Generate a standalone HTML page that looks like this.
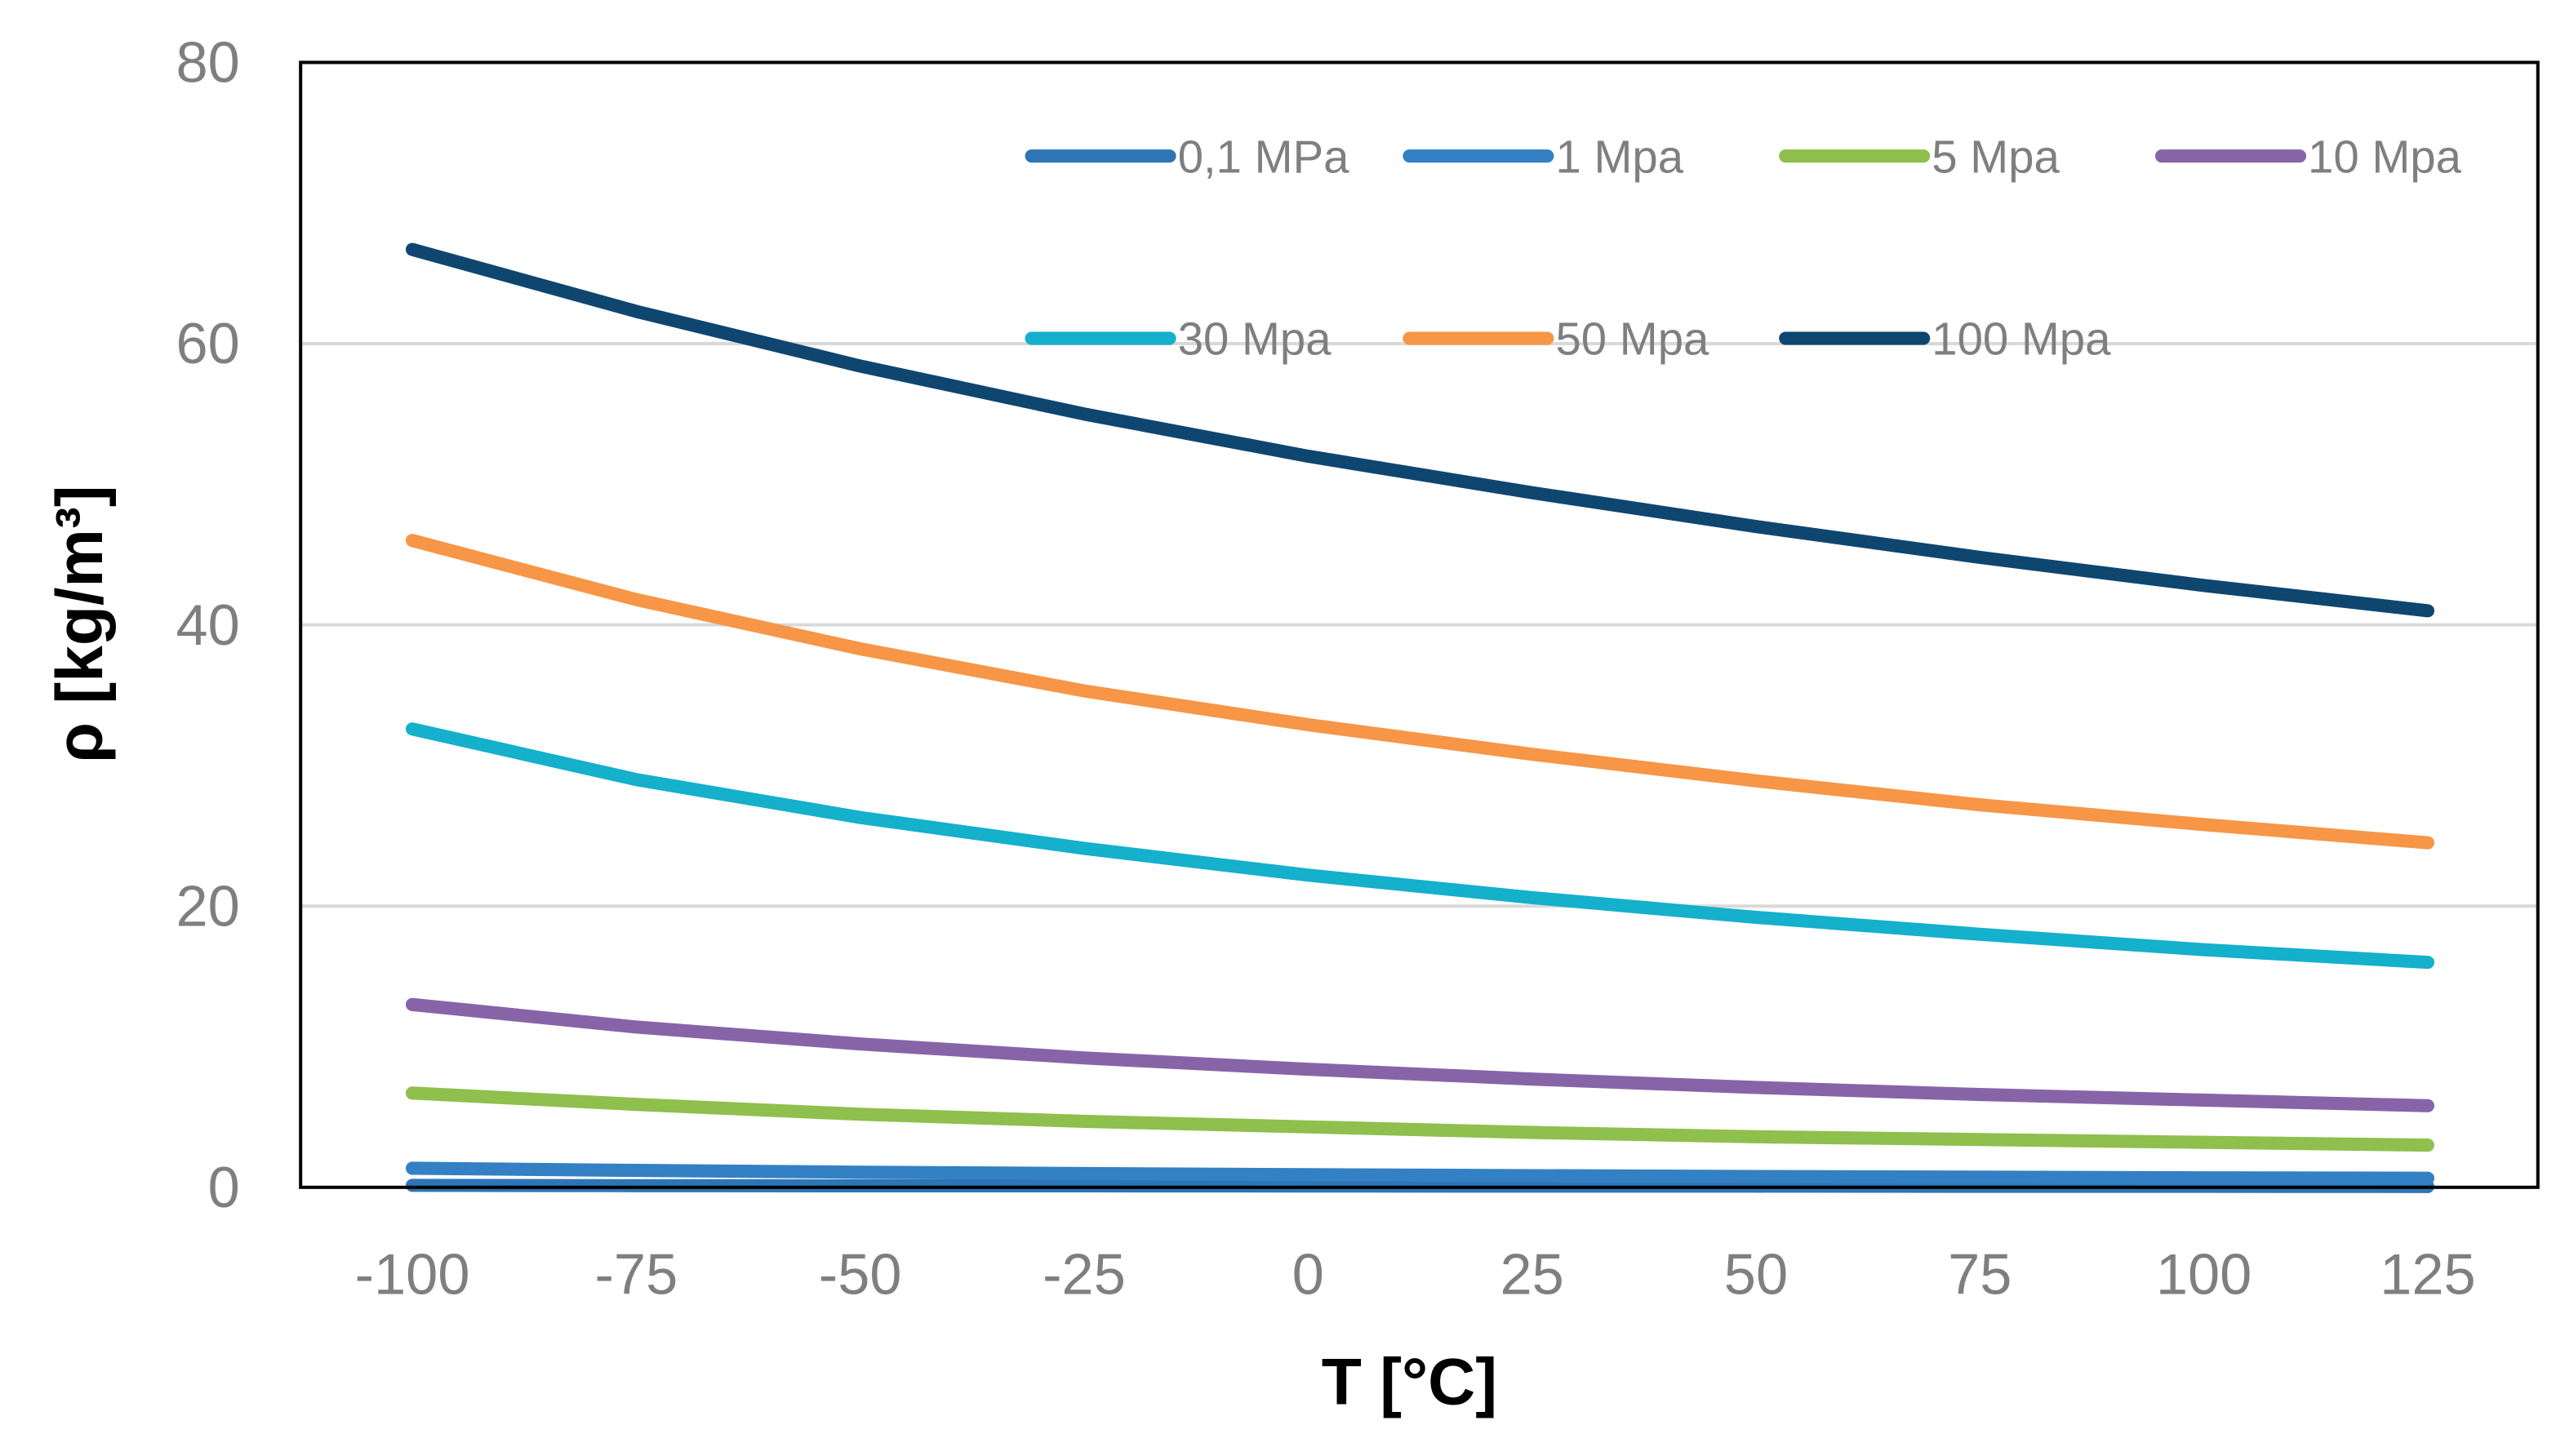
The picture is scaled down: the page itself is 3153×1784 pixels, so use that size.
<!DOCTYPE html>
<html><head><meta charset="utf-8"><style>
html,body{margin:0;padding:0;background:#fff;}
svg{display:block;}
text{font-family:"Liberation Sans",sans-serif;}
</style></head><body>
<svg id="chart" width="3153" height="1784" viewBox="0 0 1567 886.6" xmlns="http://www.w3.org/2000/svg">
<rect width="1567" height="886.6" fill="#fff"/>
<g id="grid"></g>
<g id="series"></g>
<rect x="183" y="38" width="1362" height="685" fill="none" stroke="#000" stroke-width="2"/>
<g id="ticks"></g>
<text transform="translate(62,380) rotate(-90)" text-anchor="middle" font-size="40" font-weight="bold" fill="#000">ρ [kg/m³]</text>
<text x="858" y="855" text-anchor="middle" font-size="40" font-weight="bold" fill="#000">T [°C]</text>
<g id="legend"></g>
</svg>
<script>
const temps = [-100,-75,-50,-25,0,25,50,75,100,125];
const s01 = [0.14,0.12,0.11,0.10,0.09,0.08,0.08,0.07,0.07,0.06];
const s1 = [1.35,1.2,1.08,0.98,0.9,0.83,0.77,0.72,0.68,0.64];
const s5 = [6.7,5.9,5.2,4.7,4.3,3.9,3.6,3.4,3.2,3.0];
const s10 = [13.0,11.4,10.2,9.2,8.4,7.7,7.1,6.6,6.2,5.8];
const s30 = [32.6,29.0,26.3,24.1,22.2,20.6,19.2,18.0,16.9,16.0];
const s50 = [46.0,41.8,38.3,35.3,32.9,30.8,28.9,27.2,25.8,24.5];
const s100 = [66.7,62.3,58.4,55.0,52.0,49.4,47.0,44.8,42.8,41.0];
const seriesNames = ["0,1 MPa","1 Mpa","5 Mpa","10 Mpa","30 Mpa","50 Mpa","100 Mpa"];
const yTicks = [0,20,40,60,80];
const xTicks = [-100,-75,-50,-25,0,25,50,75,100,125];

const colors = ["#2e75b6","#3380c4","#8fbf4d","#8764a8","#14b0cc","#f79646","#0f4670"];
const allSeries = [s01,s1,s5,s10,s30,s50,s100];
const NS="http://www.w3.org/2000/svg";
const X = v => 251 + (v+100)*(1478-251)/225;
const Y = v => 723 - v*(723-38)/80;
function mk(tag, attrs, parent){const e=document.createElementNS(NS,tag);for(const k in attrs)e.setAttribute(k,attrs[k]);parent.appendChild(e);return e;}
const grid=document.getElementById('grid'), ticks=document.getElementById('ticks'), ser=document.getElementById('series'), leg=document.getElementById('legend');
yTicks.forEach(t=>{
  if(t>0&&t<80){const l=mk('line',{x1:183,x2:1545,y1:Y(t),y2:Y(t),stroke:'#d9d9d9','stroke-width':2},grid);
  
  }
  const tx=mk('text',{x:146,y:Y(t)+12,'text-anchor':'end','font-size':35,fill:'#7f7f7f'},ticks);tx.textContent=t;
  
  
});
xTicks.forEach(t=>{
  const tx=mk('text',{x:X(t),y:788,'text-anchor':'middle','font-size':35,fill:'#7f7f7f'},ticks);tx.textContent=t;
  
  
});
allSeries.forEach((s,i)=>{
  const d=s.map((v,j)=>(j?'L':'M')+X(temps[j]).toFixed(1)+','+Y(v).toFixed(1)).join(' ');
  const p=mk('path',{d:d,fill:'none',stroke:colors[i],'stroke-width':8,'stroke-linecap':'round','stroke-linejoin':'round'},ser);
  
  
});
const legX=[628,858,1087,1316], legY=[95,206];
seriesNames.forEach((n,i)=>{
  const x=legX[i%4], y=legY[Math.floor(i/4)];
  const g=mk('g',{},leg);
  
  
  mk('line',{x1:x,x2:x+84,y1:y,y2:y,stroke:colors[i],'stroke-width':8,'stroke-linecap':'round'},g);
  const t=mk('text',{x:x+89,y:y+10,'font-size':28,fill:'#7f7f7f'},g);t.textContent=n;
});
</script>
</body></html>
